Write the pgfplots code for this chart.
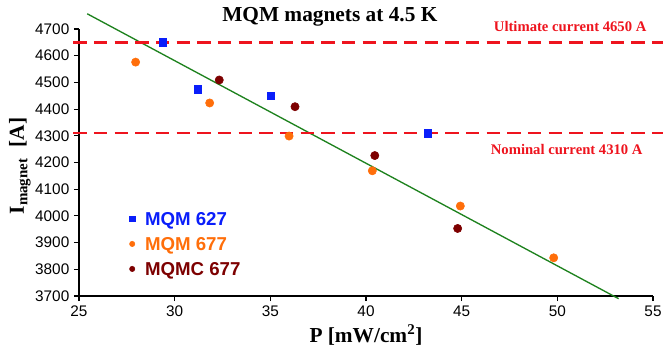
\documentclass[border=0pt]{standalone}
\usepackage{pgfplots}
\pgfplotsset{compat=1.18}
\usepackage{fontspec}
\setmainfont{Liberation Serif}
\setsansfont{Liberation Sans}
\definecolor{mqmblue}{RGB}{10,30,250}
\definecolor{mqmorange}{RGB}{255,110,10}
\definecolor{mqmdred}{RGB}{125,0,0}
\definecolor{fitgreen}{RGB}{30,130,30}
\definecolor{limred}{RGB}{238,20,30}
\begin{document}
\begin{tikzpicture}
\begin{axis}[
  name=ax,
  scale only axis,
  width=430.5pt, height=200.25pt,
  xmin=25, xmax=55, ymin=3700, ymax=4700,
  xtick={25,30,...,55}, ytick={3700,3800,...,4700},
  axis x line*=bottom, axis y line*=left,
  x axis line style={-}, y axis line style={-},
  axis line style={line width=0.8pt},
  tick align=outside, major tick length=3.75pt,
  every tick/.style={black, line width=0.8pt},
  xtick pos=bottom, ytick pos=left,
  /pgf/number format/assume math mode=true,
  /pgf/number format/1000 sep={},
  tick label style={font=\fontsize{11.5}{13}\selectfont\sffamily},
  clip=false,
  xlabel={\bfseries P [mW/cm\textsuperscript{2}]},
  xlabel style={at={(rel axis cs:0.5,-0.175)}, anchor=base, font=\fontsize{16}{18}\selectfont},
  ylabel={\bfseries I\textsubscript{magnet}\ \ [A]},
  ylabel style={at={(rel axis cs:-0.096,0.487)}, anchor=base, rotate=0, font=\fontsize{16}{18}\selectfont},
  legend style={at={(rel axis cs:0.0876,0.3146)}, anchor=north west, draw=none, fill=none,
    inner sep=0pt, row sep=8.75pt, column sep=7.6pt,
    font=\fontsize{14}{16}\selectfont\sffamily\bfseries,
    nodes={inner sep=0pt, text height=10pt, text depth=0pt}},
  legend cell align=left,
  legend image post style={mark size=2pt},
]
% fit line
\addplot[fitgreen, line width=1pt, forget plot] coordinates {(25.43,4757) (53.2,3690)};
% limit lines
\addplot[limred, line width=1.8pt, dash pattern=on 10pt off 5.5pt, forget plot] coordinates {(24.7,4650) (55.55,4650)};
\addplot[limred, line width=1.8pt, dash pattern=on 10pt off 5.5pt, forget plot] coordinates {(24.7,4310) (55.55,4310)};
% data
\addplot[only marks, mark=square*, mark size=2.8pt, mqmblue, mark options={draw=mqmblue, fill=mqmblue}] coordinates {
(29.37,4650) (31.22,4474) (35.02,4449) (43.24,4310)};
\addlegendentry{\textcolor{mqmblue}{MQM 627}}
\addplot[only marks, mark=*, mark size=3.1pt, mqmorange, mark options={draw=mqmorange, fill=mqmorange}] coordinates {
(27.96,4576) (31.83,4423) (35.98,4299) (40.33,4169) (44.93,4037) (49.81,3843)};
\addlegendentry{\textcolor{mqmorange}{MQM 677}}
\addplot[only marks, mark=*, mark size=3.1pt, mqmdred, mark options={draw=mqmdred, fill=mqmdred}] coordinates {
(32.33,4509) (36.29,4409) (40.46,4226) (44.79,3953)};
\addlegendentry{\textcolor{mqmdred}{MQMC 677}}
% texts
\node[anchor=base, font=\fontsize{16}{18}\selectfont\bfseries] at (rel axis cs:0.437,1.027) {MQM magnets at 4.5 K};
\node[anchor=base, font=\fontsize{11}{13}\selectfont\bfseries, text=limred] at (axis cs:50.67,4690) {Ultimate current 4650 A};
\node[anchor=base, font=\fontsize{11}{13}\selectfont\bfseries, text=limred] at (axis cs:50.49,4230) {Nominal current 4310 A};
\end{axis}
\pgfresetboundingbox
\path ([xshift=-59.25pt,yshift=-46.5pt]ax.south west) rectangle ([xshift=7.5pt,yshift=21.75pt]ax.north east);
\end{tikzpicture}
\end{document}
